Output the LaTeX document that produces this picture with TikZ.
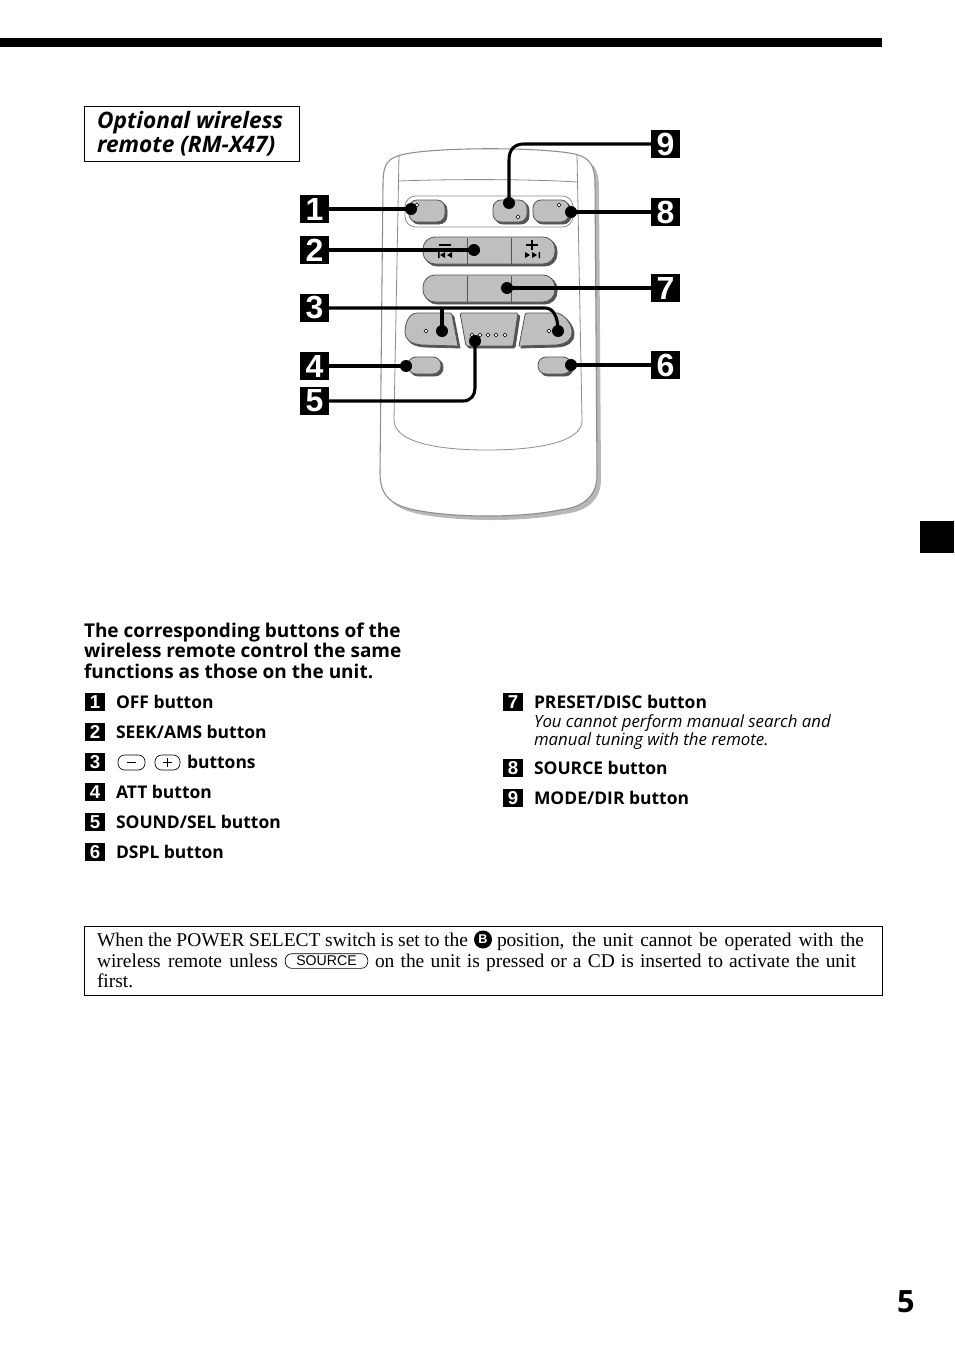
\documentclass[tikz,border=0pt]{standalone}
\usepackage{fontspec}
\setmainfont{Open Sans}
\newfontfamily\numfont{Liberation Sans}
\newfontfamily\palfont{Liberation Serif}
\newcommand{\fs}[1]{\fontsize{#1}{#1}\selectfont}
\newcommand{\pxw}[2]{\makebox[\dimexpr #1pt*3/4\relax][s]{#2}}
\tikzset{
  txt/.style={anchor=base west,inner sep=0pt,outer sep=0pt},
  headtxt/.style={txt,font=\fs{14.25}\bfseries},
  itemtxt/.style={txt,font=\fs{13.1}\bfseries},
  subtxt/.style={txt,font=\fs{12.6}\itshape},
  titletxt/.style={txt,font=\fs{17}\bfseries\itshape},
  notetxt/.style={txt,font=\palfont\fs{14.6}},
  biglabel/.style={fill=black,text=white,inner sep=0pt,outer sep=0pt,minimum width=21.75pt,minimum height=21pt,font=\numfont\bfseries\fs{24}},
  smalllabel/.style={fill=black,text=white,inner sep=0pt,outer sep=0pt,minimum width=14.5pt,minimum height=13.5pt,font=\numfont\bfseries\fs{14}},
  dotnode/.style={circle,fill=black,inner sep=0pt,outer sep=0pt,minimum size=9pt},
  conn/.style={draw=black,line width=2.3pt},
  btn/.style={fill=btngray,draw=btnline,line width=.6pt},
  btnshadow/.style={fill=btnline,draw=btnline,line width=.6pt},
  bodyline/.style={draw=bodygray,line width=.8pt},
  framebox/.style={draw=black,line width=.6pt},
  capsule/.style={draw=black,line width=.5pt,rounded corners=5pt},
  led/.style={draw=black,fill=white,line width=.45pt},
}
\definecolor{btngray}{gray}{0.75}
\definecolor{btnline}{gray}{0.33}
\definecolor{bodygray}{gray}{0.55}
\definecolor{shadowgray}{gray}{0.72}
\newcommand{\shbtn}[2][]{%
  \path[btnshadow,shift={(1.5pt,-1.5pt)},#1] #2;
  \path[btn,#1] #2;}
\begin{document}
\begin{tikzpicture}[x=0.75pt,y=-0.75pt]
\useasboundingbox (0,0) rectangle (954,1352);
% page furniture
\fill[black] (0,38) rectangle (882,47);
\fill[black] (920,521) rectangle (954,553);
\node[txt,font=\fs{23}\bfseries] (pg) at (897,1312) {5};
% title box
\draw[framebox] (84,106) rectangle (299.5,161.5);
\node[titletxt] (t1) at (97,129) {Optional wireless};
\node[titletxt] (t2) at (97,153) {remote (RM-X47)};
% remote body
\def\outline{(383,185) .. controls (383,162) and (388,158) .. (405,154) .. controls (440,147) and (540,147) .. (575,154) .. controls (590,158) and (595,165) .. (595,185) -- (597,475) .. controls (597,495) and (585,507) .. (560,510) .. controls (520,518) and (455,518) .. (415,510) .. controls (390,505) and (380,495) .. (380,473) -- cycle}
\path[fill=shadowgray,shift={(3pt,-3pt)}] \outline;
\path[fill=white,bodyline] \outline;
\draw[bodyline,line width=.6pt] (399,155) -- (394,420) .. controls (394,440) and (430,450) .. (487,450) .. controls (545,450) and (583,440) .. (582,420) -- (577,155);
\draw[bodyline,line width=.6pt] (399,181) .. controls (450,179) and (530,179) .. (577,182);
% buttons
\draw[bodyline,line width=.6pt,fill=white,rounded corners=8pt] (405,196) rectangle (573,227);
\shbtn[rounded corners=6pt]{(409,200) rectangle (445,222)}
\shbtn[rounded corners=6pt]{(493,200) rectangle (527,222)}
\shbtn[rounded corners=6pt]{(533,200) rectangle (569,222)}
\shbtn[rounded corners=9pt]{(423,237) rectangle (555,264)}
\shbtn[rounded corners=9pt]{(423,275) rectangle (555,302)}
\draw[btnline,line width=.5pt] (467,238) -- (467,264) (511,238) -- (511,264) (467,276) -- (467,302) (511,276) -- (511,302);
\shbtn{(417,313) -- (450,313) .. controls (451,313) and (451,314) .. (452,315) -- (458,346) -- (422,345) .. controls (411,344) and (405,340) .. (405,332) .. controls (405,323) and (409,313) .. (417,313) -- cycle}
\shbtn[rounded corners=1pt]{(460,313) -- (518,313) -- (513,346) -- (466,346) -- cycle}
\shbtn{(527,313) -- (558,313) .. controls (566,316) and (572,325) .. (572,332) .. controls (572,340) and (566,344) .. (556,345) -- (519,346) -- (525,315) .. controls (525,314) and (526,313) .. (527,313) -- cycle}
\shbtn[rounded corners=6pt]{(408,357) rectangle (441,374)}
\shbtn[rounded corners=6pt]{(538,357) rectangle (571,374)}
% small indicator marks
\foreach \px/\py in {417/205,518/217,559/205,426/331,549/331,472/335,480/335,488/335,496/335,505/335}
  \draw[led] (\px-2,\py) -- (\px,\py-2) -- (\px+2,\py) -- (\px,\py+2) -- cycle;
% seek icons
\foreach \cx in {445,532} \draw[black,line width=.9pt] (\cx-6,245) -- (\cx+6,245);
\draw[black,line width=.9pt] (532,240) -- (532,250);
\fill[black] (438,252) rectangle (439.5,258) (445,252) -- (445,258) -- (440,255) -- cycle (452,252) -- (452,258) -- (447,255) -- cycle;
\fill[black] (538.5,252) rectangle (540,258) (525,252) -- (525,258) -- (530,255) -- cycle (532,252) -- (532,258) -- (537,255) -- cycle;
% callouts
\node[biglabel] (l1) at (314.5,209) {1};
\node[biglabel] (l2) at (314.5,250) {2};
\node[biglabel] (l3) at (314.5,308) {3};
\node[biglabel] (l4) at (314.5,366) {4};
\node[biglabel] (l5) at (314.5,401) {5};
\node[biglabel] (l6) at (665.5,365) {6};
\node[biglabel] (l7) at (665.5,288) {7};
\node[biglabel] (l8) at (665.5,212) {8};
\node[biglabel] (l9) at (665.5,144) {9};
\node[dotnode] (d1) at (411,209) {};
\node[dotnode] (d2) at (474,250) {};
\node[dotnode] (d3a) at (442,331) {};
\node[dotnode] (d3b) at (558,331) {};
\node[dotnode] (d4) at (406,366) {};
\node[dotnode] (d5) at (475,341) {};
\node[dotnode] (d6) at (571,365) {};
\node[dotnode] (d7) at (507,288) {};
\node[dotnode] (d8) at (571,212) {};
\node[dotnode] (d9) at (509,203) {};
\draw[conn] (l1.east) -- (d1.center);
\draw[conn] (l2.east) -- (d2.center);
\draw[conn] (l3.east) -- (545,308) .. controls (553,308) and (558,316) .. (d3b.center);
\draw[conn] (d3a.center |- l3.east) -- (d3a.center);
\draw[conn] (l4.east) -- (d4.center);
\draw[conn] (l5.east) -- (463,401) .. controls (471,401) and (475,395) .. (475,388) -- (d5.center);
\draw[conn] (l6.west) -- (d6.center);
\draw[conn] (l7.west) -- (d7.center);
\draw[conn] (l8.west) -- (d8.center);
\draw[conn] (l9.west) -- (524,144) .. controls (514,144) and (509,150) .. (509,160) -- (d9.center);
% heading
\node[headtxt] (h1) at (84,637) {The corresponding buttons of the};
\node[headtxt] (h2) at (84,657) {wireless remote control the same};
\node[headtxt] (h3) at (84,678) {functions as those on the unit.};
% list left
\node[smalllabel] (s1) at (95,702) {1};
\node[smalllabel] (s2) at (95,732) {2};
\node[smalllabel] (s3) at (95,762) {3};
\node[smalllabel] (s4) at (95,792) {4};
\node[smalllabel] (s5) at (95,822) {5};
\node[smalllabel] (s6) at (95,852) {6};
\node[itemtxt] (i1) at (116,708) {OFF button};
\node[itemtxt] (i2) at (116,738) {SEEK/AMS button};
\node[itemtxt] (i3) at (187,768) {buttons};
\node[itemtxt] (i4) at (116,798) {ATT button};
\node[itemtxt] (i5) at (116,828) {SOUND/SEL button};
\node[itemtxt] (i6) at (116,858) {DSPL button};
\draw[capsule] (118,755) rectangle (145,770);
\draw[capsule] (155,755) rectangle (180,770);
\draw[black,line width=.5pt] (127,762.5) -- (136,762.5) (163,762.5) -- (172,762.5) (167.5,758) -- (167.5,767);
% list right
\node[smalllabel] (s7) at (513,702) {7};
\node[smalllabel] (s8) at (513,768) {8};
\node[smalllabel] (s9) at (513,798) {9};
\node[itemtxt] (i7) at (534,708) {PRESET/DISC button};
\node[subtxt] (n1) at (534,727) {You cannot perform manual search and};
\node[subtxt] (n2) at (534,745) {manual tuning with the remote.};
\node[itemtxt] (i8) at (534,774) {SOURCE button};
\node[itemtxt] (i9) at (534,804) {MODE/DIR button};
% note box
\draw[framebox] (84,926) rectangle (882.5,995.5);
\node[notetxt] (b1) at (97,946) {\pxw{371}{When the POWER SELECT switch is set to the}};
\node[circle,fill=black,text=white,inner sep=0pt,minimum size=13.5pt,font=\numfont\bfseries\fs{9.5}] (cb) at (483,939.5) {B};
\node[notetxt] (b2) at (497,946) {\pxw{367}{position, the unit cannot be operated with the}};
\node[notetxt] (b3) at (97,967) {\pxw{181}{wireless remote unless}};
\node[capsule,rounded corners=5pt,minimum width=62pt,minimum height=11pt,inner sep=0pt,font=\numfont\fs{10.6}] (src) at (326.5,961) {SOURCE};
\node[notetxt] (b4) at (375,967) {\pxw{481}{on the unit is pressed or a CD is inserted to activate the unit}};
\node[notetxt] (b5) at (97,987) {first.};
\end{tikzpicture}
\end{document}
